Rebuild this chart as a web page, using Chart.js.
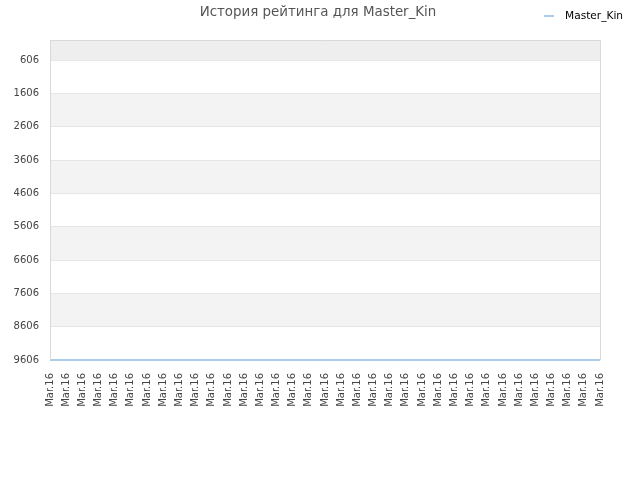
<!DOCTYPE html>
<html>
<head>
<meta charset="utf-8">
<script src="https://cdn.jsdelivr.net/npm/chart.js@4"></script>
<style>
  html, body { margin: 0; padding: 0; background: #fff; }
  #wrap { width: 640px; height: 480px; }
</style>
</head>
<body>
<div id="wrap"><canvas id="ratingChart" width="640" height="480"></canvas></div>
<script>
const TITLE = 'История рейтинга для Master_Kin';
const SERIES_NAME = 'Master_Kin';

// one label per game, all on the same day
const dates = ['Mar.16', 'Mar.16', 'Mar.16', 'Mar.16', 'Mar.16', 'Mar.16', 'Mar.16',
    'Mar.16', 'Mar.16', 'Mar.16', 'Mar.16', 'Mar.16', 'Mar.16', 'Mar.16',
    'Mar.16', 'Mar.16', 'Mar.16', 'Mar.16', 'Mar.16', 'Mar.16', 'Mar.16',
    'Mar.16', 'Mar.16', 'Mar.16', 'Mar.16', 'Mar.16', 'Mar.16', 'Mar.16',
    'Mar.16', 'Mar.16', 'Mar.16', 'Mar.16', 'Mar.16', 'Mar.16', 'Mar.16'];
const ratings = [9606, 9606, 9606, 9606, 9606, 9606, 9606,
    9606, 9606, 9606, 9606, 9606, 9606, 9606,
    9606, 9606, 9606, 9606, 9606, 9606, 9606,
    9606, 9606, 9606, 9606, 9606, 9606, 9606,
    9606, 9606, 9606, 9606, 9606, 9606, 9606];
const yTicks = [606, 1606, 2606, 3606, 4606, 5606, 6606, 7606, 8606, 9606];
const yMin = 6;
const yMax = 9606;

const FONT = 'DejaVu Sans';
const LINE_COLOR = '#a9cbec';

// alternating background bands + plot frame, title and legend
const decor = {
    id: 'decor',
    beforeDraw(chart) {
        const {ctx, chartArea: a, scales: {y}} = chart;
        ctx.save();
        const edges = [yMin].concat(yTicks);
        for (let i = 0; i < edges.length - 1; i += 2) {
            const y1 = y.getPixelForValue(edges[i]);
            const y2 = y.getPixelForValue(edges[i + 1]);
            ctx.fillStyle = i === 0 ? '#eeeeee' : '#f3f3f3';
            ctx.fillRect(a.left, Math.min(y1, y2), a.right - a.left, Math.abs(y2 - y1));
        }
        ctx.restore();
    },
    afterDraw(chart) {
        const {ctx, chartArea: a} = chart;
        ctx.save();
        ctx.strokeStyle = '#d9d9d9';
        ctx.lineWidth = 1;
        ctx.beginPath();
        ctx.moveTo(a.left + 0.5, a.bottom);
        ctx.lineTo(a.left + 0.5, a.top + 0.5);
        ctx.lineTo(a.right + 0.5, a.top + 0.5);
        ctx.lineTo(a.right + 0.5, a.bottom);
        ctx.stroke();

        ctx.fillStyle = '#555';
        ctx.font = '13.4px "' + FONT + '"';
        ctx.textAlign = 'center';
        ctx.textBaseline = 'middle';
        ctx.fillText(TITLE, 318, 13);

        ctx.strokeStyle = LINE_COLOR;
        ctx.lineWidth = 2;
        ctx.beginPath();
        ctx.moveTo(544, 16);
        ctx.lineTo(554, 16);
        ctx.stroke();
        ctx.fillStyle = '#000';
        ctx.font = '10.6px "' + FONT + '"';
        ctx.textAlign = 'left';
        ctx.fillText(SERIES_NAME, 565, 16);
        ctx.restore();
    }
};

const chart = new Chart(document.getElementById('ratingChart'), {
    type: 'line',
    data: {
        labels: dates,
        datasets: [{
            label: SERIES_NAME,
            data: ratings,
            borderColor: LINE_COLOR,
            borderWidth: 2,
            pointRadius: 0,
            fill: false,
            tension: 0,
            clip: false
        }]
    },
    options: {
        responsive: false,
        animation: false,
        layout: { padding: { top: 40, right: 40, left: 0, bottom: 0 } },
        plugins: {
            legend: { display: false },
            title: { display: false },
            tooltip: { enabled: false }
        },
        scales: {
            x: {
                offset: false,
                grid: { display: false, drawTicks: false },
                border: { display: false },
                ticks: {
                    autoSkip: false,
                    minRotation: 90,
                    maxRotation: 90,
                    padding: 13,
                    color: '#444',
                    font: { family: FONT, size: 10 }
                },
                afterFit(scale) { scale.height = 120; }
            },
            y: {
                reverse: true,
                min: yMin,
                max: yMax,
                grid: { color: '#e6e6e6', drawTicks: false },
                border: { display: false },
                ticks: {
                    padding: 11,
                    color: '#444',
                    font: { family: FONT, size: 10 },
                    callback: v => String(v)
                },
                afterBuildTicks(scale) {
                    scale.ticks = yTicks.map(v => ({ value: v }));
                },
                afterFit(scale) { scale.width = 50; }
            }
        }
    },
    plugins: [decor]
});
</script>
</body>
</html>
